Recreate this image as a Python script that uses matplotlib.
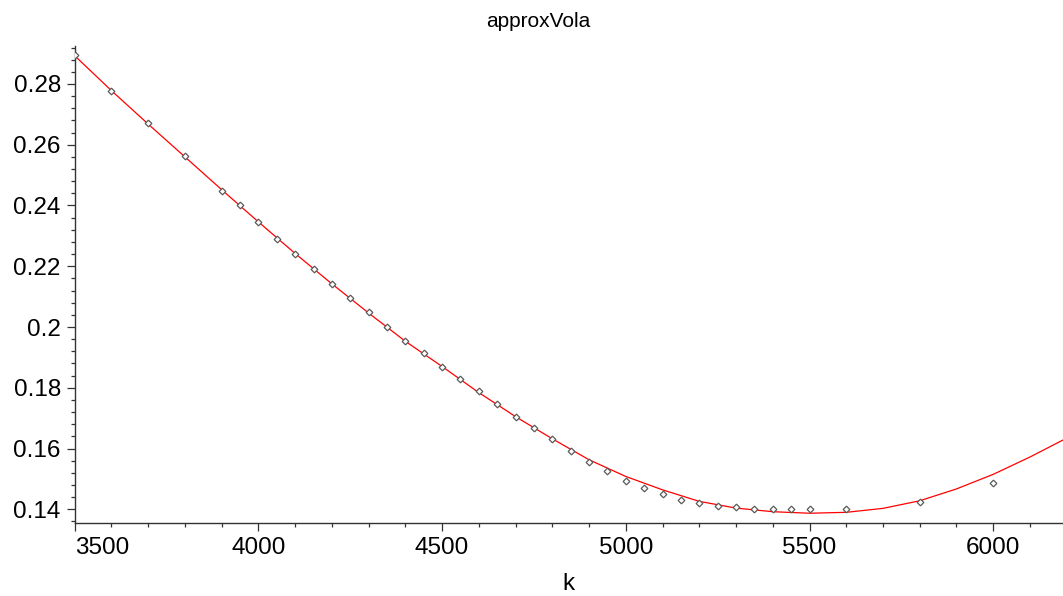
#!/usr/bin/env python3
"""Approximate volatility curve against the strike k, with the sampled quotes."""

import matplotlib.pyplot as plt
from matplotlib.ticker import MultipleLocator

plt.rcParams["font.family"] = ["Liberation Sans", "DejaVu Sans"]

# quoted volatilities per strike
strikes = [3500, 3600, 3700, 3800, 3900, 3950, 4000, 4050, 4100, 4150, 4200,
           4250, 4300, 4350, 4400, 4450, 4500, 4550, 4600, 4650, 4700, 4750,
           4800, 4850, 4900, 4950, 5000, 5050, 5100, 5150, 5200, 5250, 5300,
           5350, 5400, 5450, 5500, 5600, 5800, 6000]
vols = [0.2894, 0.2777, 0.2671, 0.2562, 0.2449, 0.2400, 0.2345, 0.2290,
        0.2241, 0.2190, 0.2142, 0.2095, 0.2048, 0.2000, 0.1955, 0.1913,
        0.1870, 0.1828, 0.1789, 0.1746, 0.1705, 0.1667, 0.1631, 0.1592,
        0.1557, 0.1526, 0.1494, 0.1469, 0.1450, 0.1430, 0.1421, 0.1412,
        0.1406, 0.1402, 0.1402, 0.1402, 0.1402, 0.1402, 0.1423, 0.1486]

# fitted curve approxVola(k)
curve_k = [3500, 3600, 3700, 3800, 3900, 4000, 4100, 4200, 4300, 4400, 4500,
           4600, 4700, 4800, 4900, 5000, 5100, 5200, 5300, 5400, 5500, 5600,
           5700, 5800, 5900, 6000, 6100, 6190]
curve_v = [0.2893, 0.2778, 0.2668, 0.2560, 0.2452, 0.2346, 0.2242, 0.2142,
           0.2046, 0.1953, 0.1870, 0.1784, 0.1705, 0.1632, 0.1563, 0.1508,
           0.1464, 0.1426, 0.1404, 0.1392, 0.1387, 0.1390, 0.1403, 0.1428,
           0.1467, 0.1515, 0.1572, 0.1628]

fig = plt.figure(figsize=(10.63, 5.96), dpi=100)
ax = fig.add_axes([0.0703, 0.122, 0.9297, 0.8008])

ax.plot(curve_k, curve_v, color="#ff0000", linewidth=0.9, zorder=2)
ax.plot(strikes, vols, linestyle="none", marker="D", markersize=3.4,
        markerfacecolor="white", markeredgecolor="#5a5a5a",
        markeredgewidth=0.9, zorder=3)

ax.set_xlim(3500, 6190)
ax.set_ylim(0.13539, 0.2925)

ax.xaxis.set_major_locator(MultipleLocator(500))
ax.xaxis.set_minor_locator(MultipleLocator(100))
ax.yaxis.set_major_locator(MultipleLocator(0.02))
ax.yaxis.set_minor_locator(MultipleLocator(0.004))

yt = [0.14, 0.16, 0.18, 0.2, 0.22, 0.24, 0.26, 0.28]
ax.set_yticks(yt)
ax.set_yticklabels(["0.14", "0.16", "0.18", "0.2", "0.22", "0.24", "0.26", "0.28"])
xt = [3500, 4000, 4500, 5000, 5500, 6000]
ax.set_xticks(xt)
ax.set_xticklabels([str(v) for v in xt])
ax.get_xticklabels()[0].set_horizontalalignment("left")

for side in ("top", "right"):
    ax.spines[side].set_visible(False)
for side in ("left", "bottom"):
    ax.spines[side].set_color("#333333")
    ax.spines[side].set_linewidth(1.0)

ax.tick_params(axis="both", which="major", direction="out", length=6,
               width=0.9, color="#333333", labelsize=17.5, pad=4)
ax.tick_params(axis="both", which="minor", direction="out", length=3,
               width=0.9, color="#333333")

ax.set_xlabel("k", fontsize=17.5, labelpad=10)
fig.text(0.506, 0.954, "approxVola", ha="center", va="baseline", fontsize=15)

fig.savefig("out.png", dpi=100)
